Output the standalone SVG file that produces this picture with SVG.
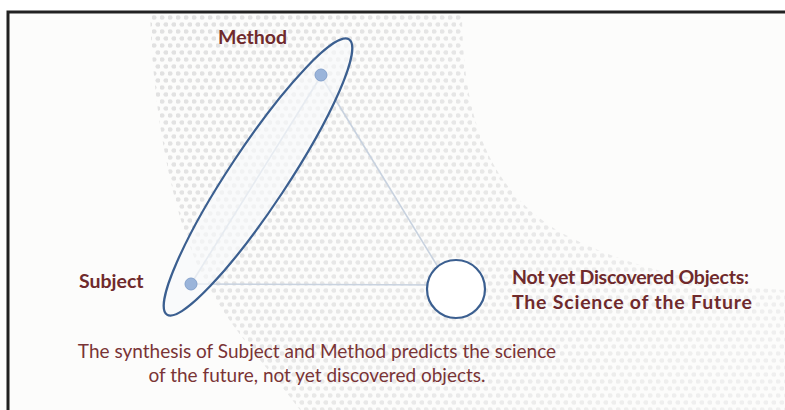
<svg xmlns="http://www.w3.org/2000/svg" width="785" height="410" viewBox="0 0 785 410">
  <style>
    .lbl { font-family: Lato, "Open Sans", "Liberation Sans", sans-serif; font-weight: bold; font-size: 19.5px; fill: #6f2a2c; }
    .cap { font-family: Lato, "Open Sans", "Liberation Sans", sans-serif; font-size: 19px; fill: #7a3436; text-anchor: middle; }
    .edge { fill: none; stroke: #c8d2df; stroke-width: 1.6; }
    .pt { fill: #9ab4da; stroke: #84a1cc; stroke-width: 1; }
    .ring { stroke: #3b5f90; stroke-width: 2.2; }
  </style>
  <defs>
    <!-- halftone dot grid for the background swoosh -->
    <pattern id="dots" patternUnits="userSpaceOnUse" width="8" height="14">
      <ellipse cx="2" cy="3.5" rx="2.6" ry="2.2" fill="#e1e1e1"/>
      <ellipse cx="6" cy="10.5" rx="2.6" ry="2.2" fill="#e1e1e1"/>
    </pattern>
    <clipPath id="swoosh">
      <path d="M150,11 L462,11 C462,120 490,190 560,232 C620,265 700,285 785,290 L785,410 L300,410 C270,370 240,340 210,290 C175,230 153,120 150,11 Z"/>
    </clipPath>
    <linearGradient id="fadeGrad" x1="200" y1="0" x2="720" y2="410" gradientUnits="userSpaceOnUse">
      <stop offset="0" stop-color="#fff" stop-opacity="1"/>
      <stop offset="0.55" stop-color="#fff" stop-opacity="0.75"/>
      <stop offset="1" stop-color="#fff" stop-opacity="0.45"/>
    </linearGradient>
    <mask id="fade">
      <rect x="0" y="0" width="785" height="410" fill="url(#fadeGrad)"/>
    </mask>
  </defs>

  <!-- page -->
  <rect x="0" y="0" width="785" height="410" fill="#ffffff"/>
  <rect x="8" y="12" width="800" height="420" fill="#fcfcfb"/>

  <!-- dotted swoosh -->
  <g id="backdrop" clip-path="url(#swoosh)" mask="url(#fade)">
    <rect x="140" y="11" width="650" height="400" fill="url(#dots)"/>
  </g>

  <!-- triangle linking the three positions -->
  <g id="connectors">
    <line class="edge" x1="321" y1="76" x2="191" y2="284"/>
    <line class="edge" x1="321" y1="76" x2="449" y2="285"/>
    <line class="edge" x1="191" y1="284" x2="449" y2="285"/>
  </g>

  <!-- synthesis of subject and method -->
  <g id="synthesis">
    <ellipse class="ring" cx="0" cy="0" rx="165" ry="29" fill="#f8f9fb" fill-opacity="0.65" transform="translate(258,177) rotate(-56.5)"/>
  </g>

  <g id="method">
    <circle class="pt" cx="321" cy="75" r="6"/>
    <text class="lbl" x="218" y="44">Method</text>
  </g>

  <g id="subject">
    <circle class="pt" cx="191" cy="284" r="6"/>
    <text class="lbl" x="79" y="288">Subject</text>
  </g>

  <g id="future">
    <circle class="ring" cx="456" cy="289" r="29" fill="#ffffff"/>
    <text class="lbl" x="512" y="284" textLength="237" lengthAdjust="spacing">Not yet Discovered Objects:</text>
    <text class="lbl" x="512" y="309" textLength="240" lengthAdjust="spacing">The Science of the Future</text>
  </g>

  <g id="caption">
    <text class="cap" x="317" y="358">The synthesis of Subject and Method predicts the science</text>
    <text class="cap" x="317" y="382">of the future, not yet discovered objects.</text>
  </g>

  <!-- frame -->
  <rect x="8" y="12" width="800" height="420" fill="none" stroke="#222222" stroke-width="3"/>
</svg>
